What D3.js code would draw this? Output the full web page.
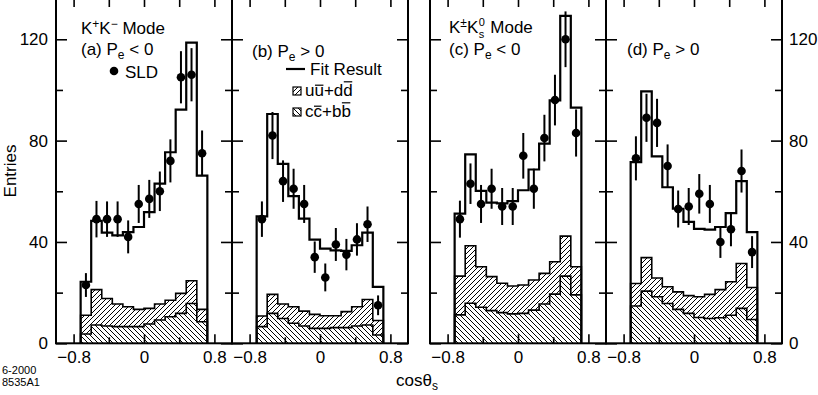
<!DOCTYPE html>
<html>
<head>
<meta charset="utf-8">
<script src="https://cdn.jsdelivr.net/npm/d3@7"></script>
<style>
body { margin: 0; background: #fff; }
text { font-family: "Liberation Sans", Arial, sans-serif; fill: #000; }
</style>
</head>
<body>
<script>
// bin edges in cos(theta_s), 12 bins of 0.12
var binEdges = [-0.72, -0.60, -0.48, -0.36, -0.24, -0.12, 0, 0.12, 0.24, 0.36, 0.48, 0.60, 0.72];

// (a) K+K-, Pe < 0
var sldA = [23, 49, 49, 49, 42, 55, 57, 60, 72, 105, 106, 75];
var errA = [4.7, 7.2, 7, 7, 6.5, 7.5, 7.5, 7.8, 8.5, 10.3, 10.5, 9];
var fitA = [24.3, 48.3, 43.7, 42.6, 43.9, 45.9, 51.8, 63, 75.4, 92.2, 118.7, 66.2];
var udsA = [7.4, 14.0, 10.9, 8.9, 7.8, 6.8, 6.2, 6.3, 6.5, 7.9, 9.0, 4.9];
var cbA  = [3.7, 7.2, 6.8, 6.6, 6.6, 6.6, 7.6, 9.2, 10.5, 11.8, 15.7, 8.5];

// (b) K+K-, Pe > 0
var sldB = [49, 82, 64, 61, 55, 34, 26, 39, 35, 41, 47, 15];
var errB = [7, 9.3, 8.2, 7.9, 7.5, 6.2, 5.5, 6.5, 6.2, 6.4, 7, 3.9];
var fitB = [50.1, 90.5, 70.8, 58.1, 49.2, 40.9, 37.4, 36.7, 36.5, 38.7, 43.7, 22.3];
var udsB = [4.2, 7.5, 5.7, 6.5, 5.9, 5.5, 5.0, 4.7, 6.3, 7.6, 10.1, 5.7];
var cbB  = [6.6, 11.8, 9.8, 7.9, 6.8, 5.9, 5.9, 6.2, 6.2, 6.8, 7.2, 3.3];

// (c) K+-K0s, Pe < 0
var sldC = [49, 63, 55, 61, 54, 54, 74, 61, 81, 96, 120, 83];
var errC = [7.3, 8, 7.5, 7.9, 7.3, 7.3, 9, 7.9, 9.2, 10, 11, 9.3];
var fitC = [51.2, 74.6, 60.2, 55.5, 55.2, 56.1, 60.4, 68.6, 78.8, 95.9, 129.2, 93];
var udsC = [15.3, 22.7, 16.0, 13.4, 11.6, 11.0, 11.2, 11.9, 12.1, 12.8, 15.8, 11.1];
var cbC  = [11.2, 15.8, 14.2, 12.9, 12.1, 11.6, 11.8, 13.1, 15.5, 19.4, 26.5, 19.1];

// (d) K+-K0s, Pe > 0
var sldD = [73, 89, 87, 70, 53, 54, 59, 55, 40, 45, 68, 36];
var errD = [8.7, 9.5, 9.5, 8.5, 7.3, 7.3, 7.8, 7.5, 6.3, 6.7, 8.5, 6.3];
var fitD = [71.5, 99.4, 73.8, 61.6, 53.1, 47.9, 45.2, 44.9, 45.9, 51.4, 64, 43.9];
var udsD = [8.9, 13.2, 7.4, 6.6, 6.9, 7.0, 8.2, 9.5, 11.1, 13.2, 17.7, 12.6];
var cbD  = [14.7, 20.6, 18.4, 15.7, 13.4, 11.8, 10.2, 9.8, 10.1, 11.1, 13.8, 9.4];

var yMajor = [0, 40, 80, 120];
var yMinor = [20, 60, 100];
var xMajor = [-0.8, 0, 0.8];
var xMinor = [-0.4, 0.4];

var W = 818, H = 395;
var panelLeft = [56, 232, 430, 606], panelW = 176;
var yBot = 343.3;

var svg = d3.select("body").append("svg")
	.attr("width", W)
	.attr("height", H);

var defs = svg.append("defs");
defs.append("pattern")
	.attr("id", "hatchUp")
	.attr("patternUnits", "userSpaceOnUse")
	.attr("width", 5).attr("height", 5)
	.append("path")
	.attr("d", "M-1,1 L1,-1 M0,5 L5,0 M4,6 L6,4")
	.attr("stroke", "#000").attr("stroke-width", 1);
defs.append("pattern")
	.attr("id", "hatchDown")
	.attr("patternUnits", "userSpaceOnUse")
	.attr("width", 5).attr("height", 5)
	.append("path")
	.attr("d", "M-1,4 L1,6 M0,0 L5,5 M4,-1 L6,1")
	.attr("stroke", "#000").attr("stroke-width", 1);

var y = d3.scaleLinear().domain([0, 135.5]).range([yBot, 0]);

var panels = [
	{sld: sldA, err: errA, fit: fitA, uds: udsA, cb: cbA},
	{sld: sldB, err: errB, fit: fitB, uds: udsB, cb: cbB},
	{sld: sldC, err: errC, fit: fitC, uds: udsC, cb: cbC},
	{sld: sldD, err: errD, fit: fitD, uds: udsD, cb: cbD}
];

var fmt = function(d) { return d === 0 ? "0" : d3.format(".1f")(d); };

function stepPoints(vals) {
	// closed step outline: starts and ends on the baseline
	var pts = [[binEdges[0], 0]];
	for (var i = 0; i < vals.length; i++) pts.push([binEdges[i], vals[i]]);
	pts.push([binEdges[binEdges.length - 1], vals[vals.length - 1]]);
	pts.push([binEdges[binEdges.length - 1], 0]);
	return pts;
}

panels.forEach(function(p, i) {
	var x = d3.scaleLinear().domain([-1, 1]).range([panelLeft[i], panelLeft[i] + panelW]);
	var g = svg.append("g");

	var tot = p.cb.map(function(v, j) { return v + p.uds[j]; });
	var rows = binEdges.map(function(e, j) {
		var k = Math.min(j, p.cb.length - 1);
		return {x: e, cb: p.cb[k], tot: tot[k]};
	});

	var area = d3.area().curve(d3.curveStepAfter).x(function(d) { return x(d.x); });
	g.append("path").datum(rows)
		.attr("d", area.y0(y(0)).y1(function(d) { return y(d.cb); }))
		.attr("fill", "url(#hatchDown)");
	g.append("path").datum(rows)
		.attr("d", area.y0(function(d) { return y(d.cb); }).y1(function(d) { return y(d.tot); }))
		.attr("fill", "url(#hatchUp)");

	var line = d3.line().curve(d3.curveStepAfter)
		.x(function(d) { return x(d[0]); })
		.y(function(d) { return y(d[1]); });

	g.append("path").attr("d", line(stepPoints(p.cb)))
		.attr("fill", "none").attr("stroke", "#000").attr("stroke-width", 1.6);
	g.append("path").attr("d", line(stepPoints(tot)))
		.attr("fill", "none").attr("stroke", "#000").attr("stroke-width", 1.6);
	g.append("path").attr("d", line(stepPoints(p.fit)))
		.attr("fill", "none").attr("stroke", "#000").attr("stroke-width", 2.2);

	// SLD points
	var centers = p.sld.map(function(v, j) { return (binEdges[j] + binEdges[j + 1]) / 2; });
	g.selectAll("line.err").data(p.sld).enter().append("line")
		.attr("x1", function(d, j) { return x(centers[j]); })
		.attr("x2", function(d, j) { return x(centers[j]); })
		.attr("y1", function(d, j) { return y(d - p.err[j]); })
		.attr("y2", function(d, j) { return y(d + p.err[j]); })
		.attr("stroke", "#000").attr("stroke-width", 2);
	g.selectAll("circle").data(p.sld).enter().append("circle")
		.attr("cx", function(d, j) { return x(centers[j]); })
		.attr("cy", function(d) { return y(d); })
		.attr("r", 4.3)
		.attr("fill", "#000");

	// frame
	g.append("rect")
		.attr("x", panelLeft[i]).attr("y", -1)
		.attr("width", panelW).attr("height", yBot + 1)
		.attr("fill", "none").attr("stroke", "#000").attr("stroke-width", 2);

	// axes
	var ax = svg.append("g").attr("class", "axes");
	ax.append("g").attr("transform", "translate(0," + yBot + ")")
		.call(d3.axisBottom(x).tickValues(xMajor).tickFormat(fmt).tickSizeInner(-9).tickSizeOuter(0).tickPadding(8));
	ax.append("g").attr("transform", "translate(0," + yBot + ")")
		.call(d3.axisBottom(x).tickValues(xMinor).tickFormat("").tickSizeInner(-6).tickSizeOuter(0));
	ax.append("g").attr("transform", "translate(0,0)")
		.call(d3.axisTop(x).tickValues(xMajor.concat(xMinor)).tickFormat("").tickSizeInner(-7).tickSizeOuter(0));

	var left = d3.axisLeft(y).tickValues(yMajor).tickSizeInner(-11).tickSizeOuter(0).tickPadding(8);
	if (i !== 0) left.tickFormat("");
	ax.append("g").attr("transform", "translate(" + panelLeft[i] + ",0)").call(left);
	ax.append("g").attr("transform", "translate(" + panelLeft[i] + ",0)")
		.call(d3.axisLeft(y).tickValues(yMinor).tickFormat("").tickSizeInner(-7).tickSizeOuter(0));

	var right = d3.axisRight(y).tickValues(yMajor).tickSizeInner(-11).tickSizeOuter(0).tickPadding(7);
	if (i !== 3) right.tickFormat("");
	ax.append("g").attr("transform", "translate(" + (panelLeft[i] + panelW) + ",0)").call(right);
	ax.append("g").attr("transform", "translate(" + (panelLeft[i] + panelW) + ",0)")
		.call(d3.axisRight(y).tickValues(yMinor).tickFormat("").tickSizeInner(-7).tickSizeOuter(0));
});

svg.selectAll(".axes .domain").remove();
svg.selectAll(".axes .tick line").attr("stroke", "#000").attr("stroke-width", 1.6);
svg.selectAll(".axes .tick text")
	.style("font-family", '"Liberation Sans", Arial, sans-serif')
	.style("font-size", "17px")
	.attr("fill", "#000");

// ---- labels
var fs = 17;
function txt(xp, yp) {
	return svg.append("text").attr("x", xp).attr("y", yp).style("font-size", fs + "px");
}

var t1 = txt(81, 34);
t1.append("tspan").text("K");
t1.append("tspan").attr("dy", -6).style("font-size", "12px").text("+");
t1.append("tspan").attr("dy", 6).text("K");
t1.append("tspan").attr("dy", -6).style("font-size", "12px").text("\u2212");
t1.append("tspan").attr("dy", 6).text(" Mode");

function peLabel(xp, yp, tag, op) {
	var t = txt(xp, yp);
	t.append("tspan").text(tag + " P");
	t.append("tspan").attr("dy", 4).style("font-size", "12px").text("e");
	t.append("tspan").attr("dy", -4).text(" " + op + " 0");
}
peLabel(81, 55, "(a)", "<");
peLabel(252, 57, "(b)", ">");
peLabel(449, 55, "(c)", "<");
peLabel(627, 55, "(d)", ">");

svg.append("circle").attr("cx", 114).attr("cy", 71).attr("r", 4.3).attr("fill", "#000");
txt(125, 77.5).text("SLD");

// legend in panel (b)
svg.append("line").attr("x1", 286).attr("x2", 305).attr("y1", 69).attr("y2", 69)
	.attr("stroke", "#000").attr("stroke-width", 2.2);
txt(310, 75).text("Fit Result");

// quark pair labels, overline drawn over the antiquark letters
function pairLabel(xp, yp, s, bars) {
	var t = txt(xp, yp).text(s);
	var node = t.node();
	bars.forEach(function(b) {
		var ext = node.getExtentOfChar(b[0]);
		svg.append("line")
			.attr("x1", ext.x + 0.5).attr("x2", ext.x + ext.width - 0.5)
			.attr("y1", yp - b[1]).attr("y2", yp - b[1])
			.attr("stroke", "#000").attr("stroke-width", 1.2);
	});
}

svg.append("rect").attr("x", 293).attr("y", 87).attr("width", 8).attr("height", 8)
	.attr("fill", "url(#hatchUp)").attr("stroke", "#000").attr("stroke-width", 1.2);
pairLabel(305, 96, "uu+dd", [[1, 10.8], [4, 14.2]]);

svg.append("rect").attr("x", 293).attr("y", 108).attr("width", 8).attr("height", 8)
	.attr("fill", "url(#hatchDown)").attr("stroke", "#000").attr("stroke-width", 1.2);
pairLabel(305, 117, "cc+bb", [[1, 10.8], [4, 14.2]]);

// K+-K0s Mode: 0 and s stacked after the second K
var t3 = txt(449, 33);
t3.append("tspan").text("K");
t3.append("tspan").attr("dy", -6).style("font-size", "12px").text("\u00b1");
t3.append("tspan").attr("dy", 6).text("K");
var kx = 449 + t3.node().getComputedTextLength();
svg.append("text").attr("x", kx + 0.5).attr("y", 26).style("font-size", "11px").text("0");
svg.append("text").attr("x", kx + 0.5).attr("y", 38).style("font-size", "11px").text("s");
txt(kx + 12, 33).text("Mode");

// axis titles
svg.append("text")
	.attr("transform", "translate(16,171) rotate(-90)")
	.attr("text-anchor", "middle")
	.style("font-size", fs + "px")
	.text("Entries");

var xt = txt(396, 386);
xt.append("tspan").text("cos\u03b8");
xt.append("tspan").attr("dy", 4).style("font-size", "12px").text("s");

svg.append("text").attr("x", 2).attr("y", 374).style("font-size", "11px").text("6-2000");
svg.append("text").attr("x", 2).attr("y", 386).style("font-size", "11px").text("8535A1");
</script>
</body>
</html>
